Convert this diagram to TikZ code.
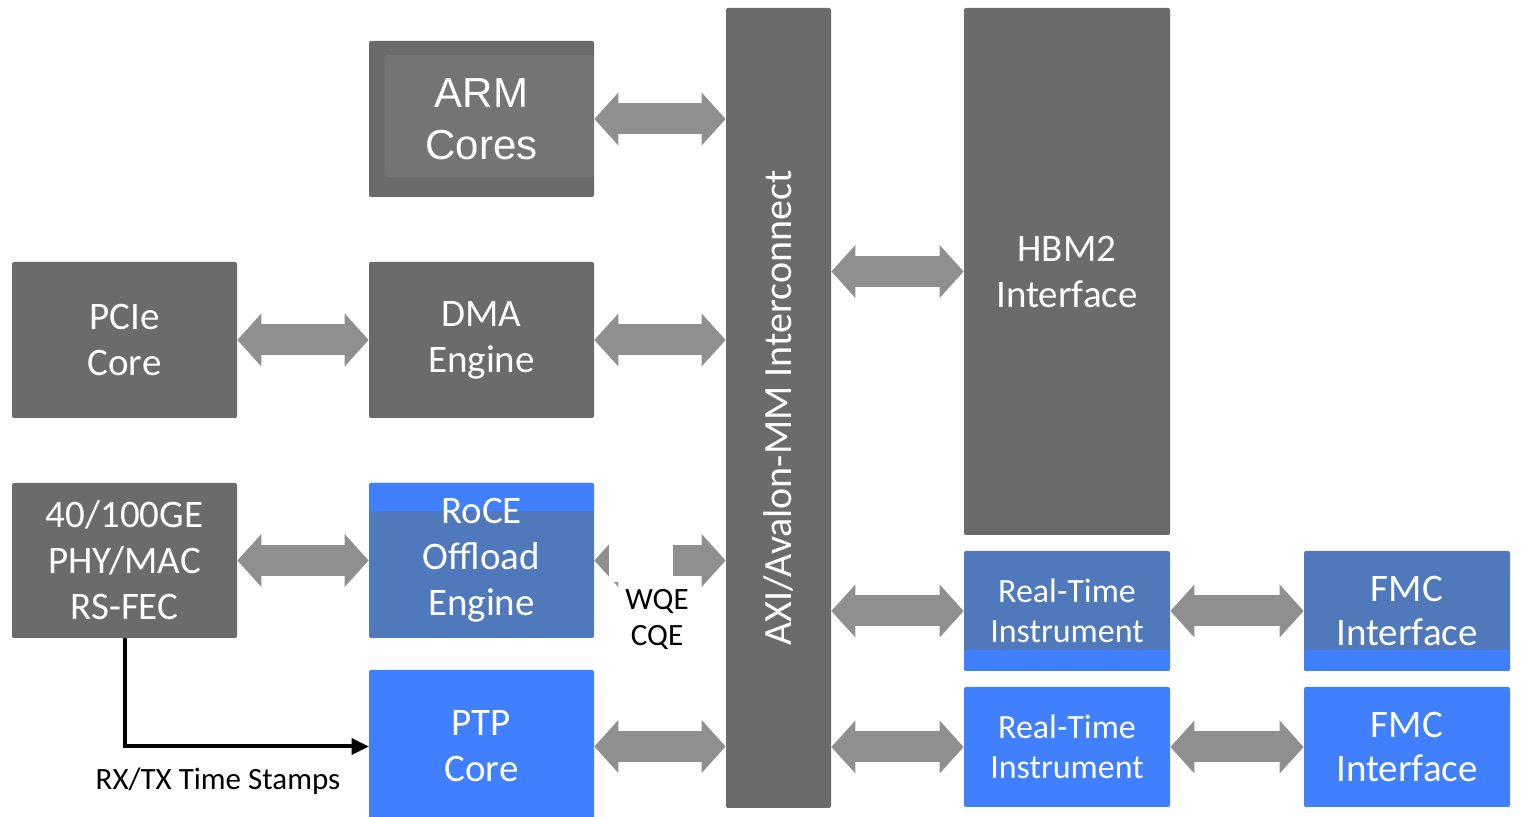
\documentclass[tikz,border=0pt]{standalone}
\usepackage{fontspec}
\setmainfont{Carlito}
\newfontfamily\armfont{Liberation Sans}
\usetikzlibrary{arrows.meta}

\definecolor{boxgray}{HTML}{6B6B6B}
\definecolor{innergray}{HTML}{747474}
\definecolor{arrowgray}{HTML}{8F8F8F}
\definecolor{brightblue}{HTML}{4080FF}
\definecolor{mutedblue}{HTML}{5079BB}

\begin{document}
\begin{tikzpicture}[x=0.5pt, y=-0.5pt,
  block/.style={fill=boxgray, text=white, rounded corners=1pt, inner sep=0pt,
    align=center, minimum width=112.5pt, font=\fontsize{19.5}{23}\selectfont},
  rightblock/.style={block, minimum width=103pt, minimum height=60pt},
  lowstrip/.style={path picture={\fill[brightblue]
    ([yshift=10.5pt]path picture bounding box.south west) rectangle
    (path picture bounding box.south east);}},
  dualarrow/.style={draw=arrowgray, line width=15.5pt,
    {Triangle[width=26.5pt,length=12pt,line width=0pt]}-{Triangle[width=26.5pt,length=12pt,line width=0pt]}},
  tsarrow/.style={draw=black, line width=2pt,
    -{Triangle[width=8.5pt,length=8.5pt,line width=0pt]}},
  smalltext/.style={font=\fontsize{15.5}{18}\selectfont, align=center}]
\useasboundingbox (0,0) rectangle (1522,817);

%--- LEFT COLUMN ---
\node[block, minimum height=78pt] (pcie) at (124.5,340) {PCIe\\Core};
\node[block, minimum height=77.5pt] (phy) at (124.5,560.5) {40/100GE\\PHY/MAC\\RS-FEC};

%--- MIDDLE COLUMN ---
% ARM box has a lighter inner panel
\node[block, minimum height=78pt, font=\armfont\fontsize{21}{26}\selectfont,
  path picture={\fill[innergray]
    ([xshift=8pt,yshift=-7pt]path picture bounding box.north west) rectangle
    ([yshift=10pt]path picture bounding box.south east);}]
  (arm) at (481.5,119) {ARM\\Cores};
\node[block, minimum height=78pt] (dma) at (481.5,340) {DMA\\Engine};
% RoCE box: blue band on top
\node[block, fill=mutedblue, minimum height=77.5pt,
  path picture={\fill[brightblue]
    (path picture bounding box.north west) rectangle
    ([yshift=-14pt]path picture bounding box.north east);}]
  (roce) at (481.5,560.5) {RoCE\\Offload\\Engine};
\node[block, fill=brightblue, minimum height=76.5pt] (ptp) at (481.5,746.5) {PTP\\Core};

%--- INTERCONNECT ---
\node[block, minimum width=52.5pt, minimum height=400pt] (axi) at (778.5,408) {};
\node[rotate=90, text=white, font=\fontsize{20}{24}\selectfont] (axilabel) at (axi.center)
  {AXI/Avalon-MM Interconnect};

%--- RIGHT SIDE ---
\node[block, minimum width=103pt, minimum height=263.5pt] (hbm) at (1067,271.5) {HBM2\\Interface};
\node[rightblock, fill=mutedblue, lowstrip, font=\fontsize{17}{20}\selectfont] (rt1) at (1067,611) {Real-Time\\Instrument};
\node[rightblock, fill=mutedblue, lowstrip, font=\fontsize{19.5}{22}\selectfont] (fmc1) at (1407,611) {FMC\\Interface};
\node[rightblock, fill=brightblue, font=\fontsize{17}{20}\selectfont] (rt2) at (1067,747) {Real-Time\\Instrument};
\node[rightblock, fill=brightblue, font=\fontsize{19.5}{22}\selectfont] (fmc2) at (1407,747) {FMC\\Interface};

%--- ARROWS ---
\draw[dualarrow] (pcie.east) -- (dma.west);
\draw[dualarrow] (phy.east) -- (roce.west);
\draw[dualarrow] (arm.east) -- (arm.east -| axi.west);
\draw[dualarrow] (dma.east) -- (dma.east -| axi.west);
\draw[dualarrow] (roce.east) -- (roce.east -| axi.west);
\draw[dualarrow] (ptp.east) -- (ptp.east -| axi.west);
\draw[dualarrow] (axi.east |- hbm.west) -- (hbm.west);
\draw[dualarrow] (axi.east |- rt1.west) -- (rt1.west);
\draw[dualarrow] (axi.east |- rt2.west) -- (rt2.west);
\draw[dualarrow] (rt1.east) -- (fmc1.west);
\draw[dualarrow] (rt2.east) -- (fmc2.west);

% break in the RoCE arrow
\fill[white] (609,525) rectangle (673,582);
\node[smalltext] (wqe) at (657,619) {WQE\\CQE};

% time stamps
\draw[tsarrow] (phy.south) |- (ptp.west);
\node[smalltext] (tslabel) at (218,781) {RX/TX Time Stamps};
\end{tikzpicture}
\end{document}
